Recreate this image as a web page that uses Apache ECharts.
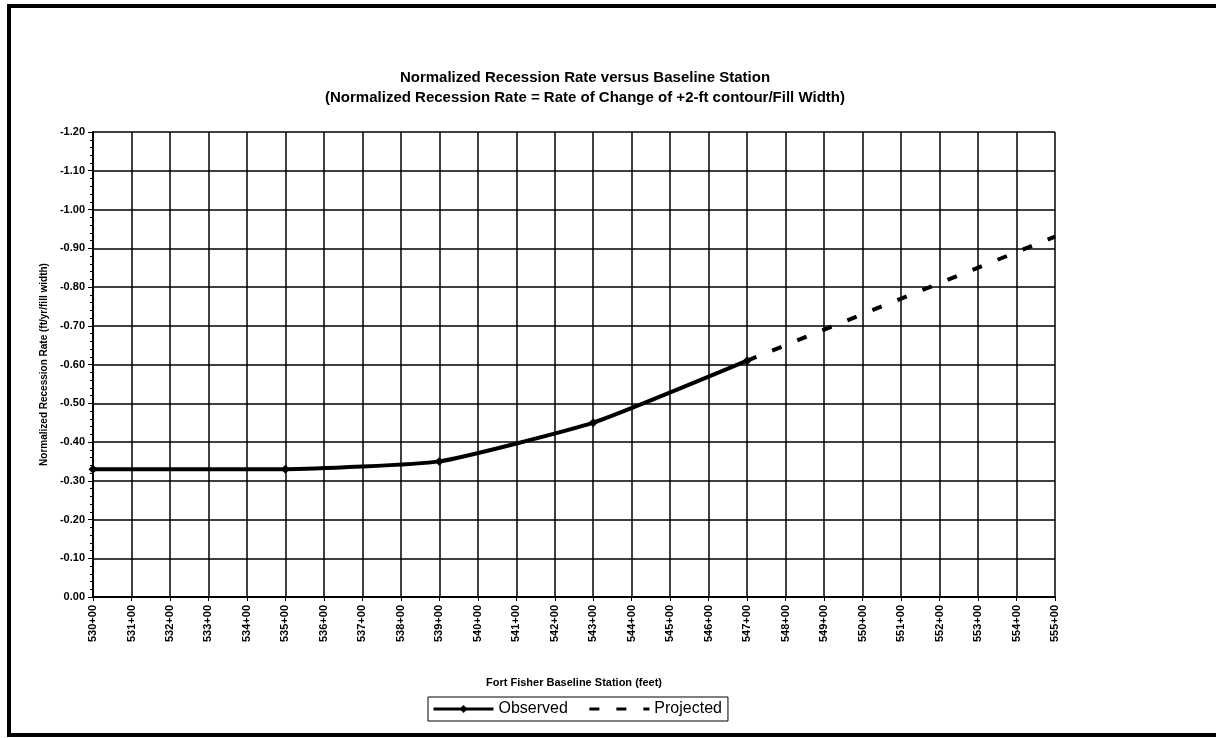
<!DOCTYPE html>
<html>
<head>
<meta charset="utf-8">
<script src="https://cdn.jsdelivr.net/npm/echarts@6/dist/echarts.min.js"></script>
<style>
html,body{margin:0;padding:0;background:#fff;}
#chart{width:1216px;height:738px;}
</style>
</head>
<body>
<div id="chart"></div>
<script>
const titleLines = ['Normalized Recession Rate versus Baseline Station', '(Normalized Recession Rate = Rate of Change of +2-ft contour/Fill Width)'];
const observedStations = [530, 535, 539, 543, 547];
const observedValues = [-0.33, -0.33, -0.35, -0.45, -0.61];
const projectedStations = [547, 555];
const projectedValues = [-0.61, -0.93];
const xName = 'Fort Fisher Baseline Station (feet)';
const yName = 'Normalized Recession Rate (ft/yr/fill width)';

const font = 'Liberation Sans, Arial, sans-serif';
const chart = echarts.init(document.getElementById('chart'), null, {renderer: 'canvas'});
chart.setOption({
  backgroundColor: '#fff',
  animation: false,
  title: {
    text: titleLines.join('\n'),
    left: 580, top: 63, textAlign: 'center',
    textStyle: {fontFamily: font, fontSize: 15, fontWeight: 'bold', color: '#000', lineHeight: 20}
  },
  graphic: [{
    type: 'polyline',
    shape: {points: [[1230, 6], [9, 6], [9, 735], [1230, 735]]},
    style: {stroke: '#000', lineWidth: 4, fill: null},
    silent: true
  }],
  legend: {
    left: 428, top: 697, width: 308,
    itemWidth: 60, itemHeight: 10, itemGap: 20,
    padding: [4, 6, 4, 4],
    borderColor: '#000', borderWidth: 1,
    textStyle: {fontFamily: font, fontSize: 16, color: '#000'},
    data: [
      {name: 'Observed', lineStyle: {width: 3}},
      {name: 'Projected', itemStyle: {opacity: 0}, lineStyle: {width: 3}}
    ]
  },
  grid: {left: 93, right: 161, top: 132, bottom: 141, containLabel: false},
  xAxis: {
    type: 'value', min: 530, max: 555, interval: 1,
    name: xName, nameLocation: 'middle', nameGap: 80,
    nameTextStyle: {fontFamily: font, fontSize: 11, fontWeight: 'bold', color: '#000'},
    axisLine: {lineStyle: {color: '#000', width: 2}},
    axisTick: {show: true, length: 4, lineStyle: {color: '#000'}},
    axisLabel: {rotate: 90, fontFamily: font, fontSize: 11, fontWeight: 'bold', color: '#000', margin: 8,
      formatter: v => v + '+00'},
    splitLine: {show: true, lineStyle: {color: '#000', width: 1.5}}
  },
  yAxis: {
    type: 'value', min: -1.2, max: 0, interval: 0.1, inverse: true,
    name: yName, nameLocation: 'middle', nameGap: 42,
    nameTextStyle: {fontFamily: font, fontSize: 10, fontWeight: 'bold', color: '#000'},
    axisLine: {show: true, lineStyle: {color: '#000', width: 2}},
    axisTick: {show: true, length: 5, lineStyle: {color: '#000'}},
    minorTick: {show: true, splitNumber: 5, length: 3, lineStyle: {color: '#000'}},
    axisLabel: {fontFamily: font, fontSize: 11, fontWeight: 'bold', color: '#000', margin: 8,
      formatter: v => v.toFixed(2)},
    splitLine: {show: true, lineStyle: {color: '#000', width: 1.5}}
  },
  series: [{
    name: 'Observed', type: 'line',
    data: observedStations.map((s, i) => [s, observedValues[i]]),
    smooth: 0.15,
    symbol: 'diamond', symbolSize: 9,
    lineStyle: {color: '#000', width: 4},
    itemStyle: {color: '#000'},
    z: 5
  }, {
    name: 'Projected', type: 'line',
    data: projectedStations.map((s, i) => [s, projectedValues[i]]),
    symbol: 'none',
    lineStyle: {color: '#000', width: 4, type: [10, 17]},
    itemStyle: {color: '#000'},
    z: 4
  }]
});
</script>
</body>
</html>
